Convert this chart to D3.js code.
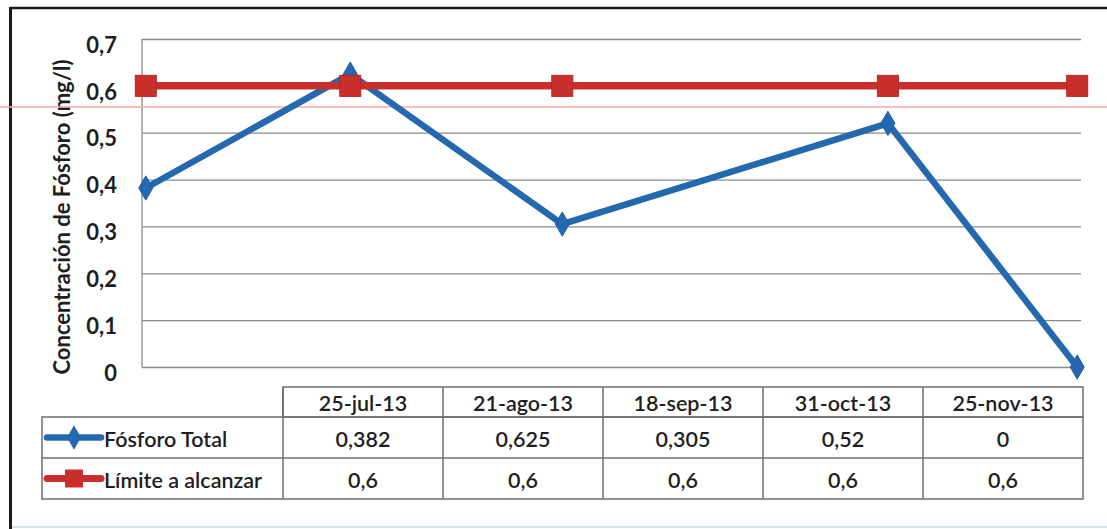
<!DOCTYPE html>
<html>
<head>
<meta charset="utf-8">
<script src="https://cdn.jsdelivr.net/npm/d3@7"></script>
<style>
  html, body { margin: 0; padding: 0; background: #ffffff; }
  svg { display: block; }
</style>
</head>
<body>
<svg id="chart" width="1107" height="529"></svg>
<script>
// ---- data ----
const dates = ["2013-07-25", "2013-08-21", "2013-09-18", "2013-10-31", "2013-11-25"];
const dateLabels = ["25-jul-13", "21-ago-13", "18-sep-13", "31-oct-13", "25-nov-13"];
const fosforo = [0.382, 0.625, 0.305, 0.52, 0];
const fosforoLabels = ["0,382", "0,625", "0,305", "0,52", "0"];
const limite = [0.6, 0.6, 0.6, 0.6, 0.6];
const limiteLabels = ["0,6", "0,6", "0,6", "0,6", "0,6"];
const seriesNames = ["Fósforo Total", "Límite a alcanzar"];
const yTicks = [0, 0.1, 0.2, 0.3, 0.4, 0.5, 0.6, 0.7];
const yTitle = "Concentración de Fósforo (mg/l)";

// ---- setup ----
const svg = d3.select("#chart");
const font = "Lato, 'Open Sans', sans-serif";
const blue = "#2469b0";
const red = "#c9302b";
const parse = d3.utcParse("%Y-%m-%d");
const dayMs = 86400000;
const dt = dates.map(parse);

const plot = { left: 142, right: 1081, top: 39, bottom: 367 };

const x = d3.scaleUtc()
  .domain([new Date(dt[0].getTime() - dayMs / 2), new Date(dt[dt.length - 1].getTime() + dayMs / 2)])
  .range([plot.left, plot.right]);
const y = d3.scaleLinear().domain([0, 0.7]).range([plot.bottom, plot.top]);

// outer frame (scan)
svg.append("line").attr("x1", 10).attr("x2", 1107).attr("y1", 8).attr("y2", 8)
  .attr("stroke", "#1a1a1a").attr("stroke-width", 2.5);
svg.append("line").attr("x1", 10.5).attr("x2", 10.5).attr("y1", 7).attr("y2", 529)
  .attr("stroke", "#1a1a1a").attr("stroke-width", 3);
svg.append("line").attr("x1", 12).attr("x2", 1107).attr("y1", 527).attr("y2", 527)
  .attr("stroke", "#cfe9ee").attr("stroke-width", 2);

// gridlines via axis
const yAxis = d3.axisLeft(y).tickValues(yTicks).tickSize(-(plot.right - plot.left)).tickFormat("");
const gGrid = svg.append("g").attr("transform", `translate(${plot.left},0)`).call(yAxis);
gGrid.select(".domain").remove();
gGrid.selectAll(".tick line").attr("stroke", "#8a8a8a").attr("stroke-width", 1.3);

// left axis line
svg.append("line").attr("x1", plot.left).attr("x2", plot.left)
  .attr("y1", plot.top).attr("y2", plot.bottom)
  .attr("stroke", "#8a8a8a").attr("stroke-width", 1.3);

// tick labels
svg.append("g").selectAll("text").data(yTicks).join("text")
  .attr("x", 117).attr("y", d => y(d) + 6)
  .attr("dy", "0.35em")
  .attr("text-anchor", "end")
  .attr("font-family", font).attr("font-weight", 700).attr("font-size", 22)
  .attr("fill", "#1e1e1e")
  .text(d => d3.format(".1f")(d).replace(".", ",").replace("0,0", "0"));

// axis title
svg.append("text")
  .attr("transform", `translate(70,217) rotate(-90)`)
  .attr("text-anchor", "middle")
  .attr("font-family", font).attr("font-weight", 700).attr("font-size", 22)
  .attr("fill", "#1e1e1e")
  .text(yTitle);

// scan artifact line
svg.append("line").attr("x1", 0).attr("x2", 1107).attr("y1", 107).attr("y2", 107)
  .attr("stroke", "#f7aaa8").attr("stroke-width", 1.5);

// lines
const line = d3.line().x((d, i) => x(dt[i])).y(d => y(d));
svg.append("path").datum(fosforo).attr("d", line)
  .attr("fill", "none").attr("stroke", blue).attr("stroke-width", 6.5).attr("stroke-linejoin", "round");
svg.append("path").datum(limite).attr("d", line)
  .attr("fill", "none").attr("stroke", red).attr("stroke-width", 7.5);

// markers
const diamond = d3.symbol().type(d3.symbolDiamond).size(170);
svg.append("g").selectAll("path").data(fosforo).join("path")
  .attr("transform", (d, i) => `translate(${x(dt[i])},${y(d)})`)
  .attr("d", diamond).attr("fill", blue).attr("stroke", "#1f5e9e").attr("stroke-width", 1);
const sq = 21;
svg.append("g").selectAll("rect").data(limite).join("rect")
  .attr("x", (d, i) => x(dt[i]) - sq / 2).attr("y", d => y(d) - sq / 2)
  .attr("width", sq).attr("height", sq)
  .attr("fill", red).attr("stroke", "#b52724").attr("stroke-width", 1);

// ---- data table ----
const table = { left: 42, colStart: 283, right: 1083, hTop: 387, r1: 417, r2: 458, bottom: 499 };
const col = d3.scaleBand().domain(dateLabels).range([table.colStart, table.right]);
const tStroke = "#6e6e6e";
const tg = svg.append("g").attr("stroke", tStroke).attr("stroke-width", 1.5).attr("fill", "none");
// header box
tg.append("rect").attr("x", table.colStart).attr("y", table.hTop)
  .attr("width", table.right - table.colStart).attr("height", table.r1 - table.hTop);
// body box
tg.append("rect").attr("x", table.left).attr("y", table.r1)
  .attr("width", table.right - table.left).attr("height", table.bottom - table.r1);
tg.append("line").attr("x1", table.left).attr("x2", table.right).attr("y1", table.r2).attr("y2", table.r2);
// column lines
tg.selectAll("line.c").data(dateLabels).join("line").attr("class", "c")
  .attr("x1", d => col(d)).attr("x2", d => col(d))
  .attr("y1", table.hTop).attr("y2", table.bottom);

const tSize = 21.5;
const txt = (sel) => sel.attr("font-family", font).attr("font-weight", 600).attr("font-size", tSize)
  .attr("fill", "#1e1e1e").attr("text-anchor", "middle").attr("dominant-baseline", "central");

svg.append("g").selectAll("text").data(dateLabels).join("text")
  .attr("x", d => col(d) + col.bandwidth() / 2).attr("y", (table.hTop + table.r1) / 2 + 1)
  .text(d => d).call(txt);
svg.append("g").selectAll("text").data(fosforoLabels).join("text")
  .attr("x", (d, i) => col(dateLabels[i]) + col.bandwidth() / 2).attr("y", (table.r1 + table.r2) / 2 + 1)
  .text(d => d).call(txt);
svg.append("g").selectAll("text").data(limiteLabels).join("text")
  .attr("x", (d, i) => col(dateLabels[i]) + col.bandwidth() / 2).attr("y", (table.r2 + table.bottom) / 2 + 1)
  .text(d => d).call(txt);

// legend keys in table
const rowsY = [(table.r1 + table.r2) / 2, (table.r2 + table.bottom) / 2];
const keyX0 = 47, keyX1 = 101, keyMid = 74;
// blue
svg.append("line").attr("x1", keyX0).attr("x2", keyX1).attr("y1", rowsY[0]).attr("y2", rowsY[0])
  .attr("stroke", blue).attr("stroke-width", 6.5).attr("stroke-linecap", "round");
svg.append("path").attr("transform", `translate(${keyMid},${rowsY[0]})`)
  .attr("d", diamond).attr("fill", blue);
// red
svg.append("line").attr("x1", keyX0).attr("x2", keyX1).attr("y1", rowsY[1]).attr("y2", rowsY[1])
  .attr("stroke", red).attr("stroke-width", 7).attr("stroke-linecap", "round");
svg.append("rect").attr("x", keyMid - 9).attr("y", rowsY[1] - 9).attr("width", 18).attr("height", 18)
  .attr("fill", red);

svg.append("g").selectAll("text").data(seriesNames).join("text")
  .attr("x", 104).attr("y", (d, i) => rowsY[i] + 1)
  .attr("font-family", font).attr("font-weight", 600).attr("font-size", tSize)
  .attr("fill", "#1e1e1e").attr("dominant-baseline", "central")
  .text(d => d);
</script>
</body>
</html>
